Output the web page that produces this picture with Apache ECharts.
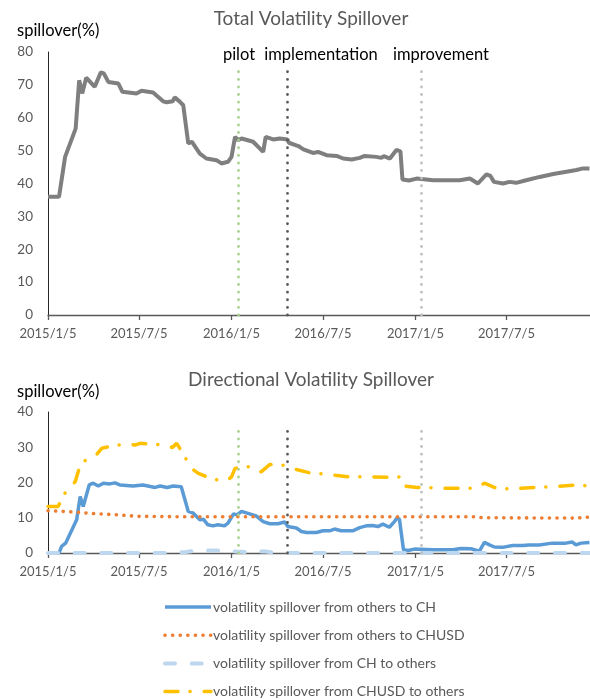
<!DOCTYPE html>
<html>
<head>
<meta charset="utf-8">
<script src="https://cdn.jsdelivr.net/npm/echarts@6/dist/echarts.min.js"></script>
<style>
html,body{margin:0;padding:0;background:#fff;}
#chart{width:590px;height:699px;}
</style>
</head>
<body>
<div id="chart"></div>
<script>
// ---------- data ----------
const tickLabels = ['2015/1/5','2015/7/5','2016/1/5','2016/7/5','2017/1/5','2017/7/5'];
const xStart = '2015/1/5';
const xEnd = '2017/12/18';

const eventNames = ['pilot','implementation','improvement'];
const eventDates = ['2016-01-19','2016-04-25','2017-01-17'];

const totDates = ['2015-01-05','2015-01-27','2015-02-08','2015-03-01','2015-03-08','2015-03-14','2015-03-22','2015-04-08','2015-04-20','2015-04-26','2015-05-05','2015-05-25','2015-06-02','2015-06-30','2015-07-10','2015-08-02','2015-08-22','2015-08-29','2015-09-10','2015-09-14','2015-09-24','2015-10-01','2015-10-11','2015-10-18','2015-11-03','2015-11-16','2015-12-06','2015-12-16','2015-12-29','2016-01-05','2016-01-12','2016-01-18','2016-01-25','2016-02-17','2016-03-08','2016-03-13','2016-03-28','2016-04-10','2016-04-25','2016-04-28','2016-05-17','2016-05-27','2016-06-15','2016-06-25','2016-07-12','2016-08-01','2016-08-14','2016-08-31','2016-09-16','2016-09-26','2016-10-19','2016-10-29','2016-11-03','2016-11-15','2016-11-28','2016-12-06','2016-12-10','2016-12-23','2017-01-07','2017-02-09','2017-04-03','2017-04-23','2017-05-09','2017-05-26','2017-06-03','2017-06-10','2017-06-28','2017-07-11','2017-07-24','2017-08-13','2017-09-09','2017-10-06','2017-11-01','2017-11-21','2017-12-04','2017-12-17'];
const totValues = [36.0,36.0,48.1,56.7,71.4,67.4,72.2,69.4,73.8,73.5,70.9,70.4,67.9,67.4,68.2,67.7,65.0,64.7,65.0,66.2,64.9,63.8,52.2,52.7,49.1,47.6,47.1,46.1,46.6,48.1,54.2,53.2,53.7,52.7,49.6,54.2,53.4,53.7,53.4,52.4,51.4,50.4,49.3,49.6,48.6,48.4,47.6,47.3,47.8,48.4,48.1,47.8,48.3,47.6,50.2,49.8,41.2,40.9,41.5,41.0,41.0,41.5,40.0,42.8,42.3,40.5,40.0,40.5,40.2,41.0,42.0,42.9,43.6,44.1,44.6,44.6];

const seriesNames = ['volatility spillover from others to CH','volatility spillover from others to CHUSD','volatility spillover from CH to others','volatility spillover from CHUSD to others'];

const toCHDates = ['2015-01-05','2015-01-27','2015-02-01','2015-02-09','2015-02-20','2015-03-03','2015-03-10','2015-03-16','2015-03-28','2015-04-05','2015-04-15','2015-04-25','2015-05-08','2015-05-18','2015-05-28','2015-06-23','2015-07-13','2015-08-06','2015-08-16','2015-08-30','2015-09-11','2015-09-27','2015-10-11','2015-10-21','2015-11-03','2015-11-10','2015-11-19','2015-11-29','2015-12-09','2015-12-22','2015-12-29','2016-01-09','2016-01-16','2016-01-25','2016-02-10','2016-02-23','2016-03-08','2016-03-21','2016-04-06','2016-04-20','2016-04-26','2016-05-13','2016-05-23','2016-06-02','2016-06-22','2016-07-05','2016-07-18','2016-07-28','2016-08-10','2016-09-02','2016-09-16','2016-09-29','2016-10-12','2016-10-22','2016-11-01','2016-11-14','2016-11-24','2016-11-29','2016-12-04','2016-12-12','2016-12-21','2017-01-03','2017-02-08','2017-03-20','2017-04-05','2017-04-25','2017-05-12','2017-05-22','2017-06-01','2017-06-11','2017-06-27','2017-07-17','2017-08-06','2017-08-19','2017-09-08','2017-10-04','2017-10-31','2017-11-13','2017-11-20','2017-11-30','2017-12-17'];
const toCHValues = [0,0,1.9,2.8,6.1,9.4,16.0,13.2,19.3,19.8,19.0,19.8,19.6,19.9,19.3,19.0,19.3,18.6,19.0,18.6,19.0,18.8,11.8,11.3,9.4,9.6,8.0,7.7,8.0,7.7,8.5,11.1,10.8,11.8,11.1,10.5,8.9,8.3,8.3,8.8,7.5,7.1,6.1,5.8,5.8,6.3,6.3,6.8,6.3,6.3,7.2,7.7,7.8,7.5,8.2,7.3,8.9,9.9,9.6,0.9,0.7,1.1,0.9,0.9,1.3,1.2,0.5,3.0,2.3,1.7,1.6,2.1,2.1,2.3,2.3,2.8,2.8,3.1,2.3,2.8,3.0];

const toCHUSDDates = ['2015-01-05','2015-02-18','2015-04-05','2015-05-25','2015-07-04','2015-09-11','2016-06-01','2017-05-01','2017-05-20','2017-11-20','2017-12-17'];
const toCHUSDValues = [12.0,11.7,11.2,10.8,10.4,10.3,10.3,10.3,10.0,9.9,10.2];

const fromCHDates = ['2015-01-05','2015-09-11','2015-10-06','2015-10-31','2015-12-20','2016-01-14','2016-02-08','2016-03-09','2016-03-24','2016-04-18','2017-12-17'];
const fromCHValues = [0,0,0.3,0.7,0.7,0.4,0.2,0.5,0.2,0,0];

const fromCHUSDDates = ['2015-01-05','2015-01-25','2015-02-08','2015-02-28','2015-03-07','2015-03-18','2015-04-08','2015-04-22','2015-05-20','2015-06-17','2015-06-27','2015-07-07','2015-08-05','2015-09-04','2015-09-09','2015-09-18','2015-10-05','2015-10-17','2015-10-31','2015-11-29','2015-12-26','2016-01-05','2016-01-12','2016-01-28','2016-02-17','2016-03-04','2016-03-21','2016-04-20','2016-05-13','2016-06-07','2016-07-08','2016-08-27','2016-09-29','2016-11-14','2016-12-07','2016-12-12','2017-01-08','2017-03-03','2017-04-02','2017-05-05','2017-05-22','2017-06-14','2017-07-17','2017-08-03','2017-09-01','2017-10-04','2017-10-24','2017-11-23','2017-12-17'];
const fromCHUSDValues = [13.2,13.2,17.0,20.2,23.5,26.1,27.3,29.7,30.6,30.9,30.6,31.1,30.9,30.3,29.9,31.1,27.1,24.0,22.6,20.9,20.4,21.6,24.0,24.5,24.5,23.0,25.1,24.9,23.7,22.8,22.4,21.6,21.6,21.5,21.6,19.0,18.6,18.4,18.4,18.4,19.8,18.4,18.1,18.4,18.6,18.8,19.0,19.3,19.0];

// ---------- helpers ----------
function ts(s){ const p = s.split(/[-\/]/).map(Number); return new Date(p[0], p[1]-1, p[2]).getTime(); }
function zip(d, v){ return d.map((x, i) => [ts(x), v[i]]); }
const tickValues = tickLabels.map(ts);
const FONT = 'Lato';
const GRAY = '#595959';

function xAxisCfg(idx){
  return {
    type: 'value', gridIndex: idx, min: ts(xStart), max: ts(xEnd), scale: true,
    axisLine: { show: true, lineStyle: { color: GRAY, width: 1.3 } },
    axisTick: { show: true, customValues: tickValues, length: 5, inside: false, lineStyle: { color: GRAY, width: 1.3 } },
    axisLabel: { customValues: tickValues, color: GRAY, fontSize: 13, fontFamily: FONT, margin: 12,
      formatter: v => { const i = tickValues.indexOf(v); return i >= 0 ? tickLabels[i] : ''; } },
    splitLine: { show: false }
  };
}
function yAxisCfg(idx, max){
  return {
    type: 'value', gridIndex: idx, min: 0, max: max, interval: 10,
    axisLine: { show: true, lineStyle: { color: '#262626', width: 1 } },
    axisTick: { show: false },
    axisLabel: { color: GRAY, fontSize: 13.5, fontFamily: FONT, margin: 15 },
    splitLine: { show: false }
  };
}
const eventColors = ['#A9D18E','#595959','#BFBFBF'];
function eventLines(top){
  return {
    silent: true, symbol: ['none','none'], label: { show: false }, animation: false,
    data: eventDates.map((d, i) => [
      { coord: [ts(d), 0], lineStyle: { color: eventColors[i], type: [0.1, 7.5], width: 2.8, cap: 'round' } },
      { coord: [ts(d), top] }
    ])
  };
}

const chart = echarts.init(document.getElementById('chart'), null, { renderer: 'canvas' });
chart.setOption({
  animation: false,
  textStyle: { fontFamily: FONT },
  grid: [
    { left: 48, right: 0, top: 52, bottom: 384, outerBoundsMode: 'none', containLabel: false },
    { left: 48, right: 0, top: 412, bottom: 146, outerBoundsMode: 'none', containLabel: false }
  ],
  xAxis: [xAxisCfg(0), xAxisCfg(1)],
  yAxis: [yAxisCfg(0, 80), yAxisCfg(1, 40)],
  legend: {
    data: seriesNames, orient: 'vertical', left: 163, top: 600, height: 140, width: 420, padding: 0,
    itemWidth: 46, itemHeight: 14, itemGap: 14.2,
    itemStyle: { color: 'rgba(0,0,0,0)', opacity: 0, borderWidth: 0 },
    lineStyle: { width: 'inherit' },
    textStyle: { color: GRAY, fontSize: 14, lineHeight: 14, fontFamily: FONT, padding: [0,0,0,-3] },
    selectedMode: false
  },
  graphic: [
    { type: 'text', style: { text: 'Total Volatility Spillover', x: 311, y: 19, textAlign: 'center', textVerticalAlign: 'middle', fill: GRAY, font: '19px ' + FONT } },
    { type: 'text', style: { text: 'spillover(%)', x: 17, y: 31, textAlign: 'left', textVerticalAlign: 'middle', fill: '#000', font: '16.5px ' + FONT } },
    { type: 'text', style: { text: eventNames[0], x: 239, y: 55, textAlign: 'center', textVerticalAlign: 'middle', fill: '#000', font: '16.5px ' + FONT } },
    { type: 'text', style: { text: eventNames[1], x: 321, y: 55, textAlign: 'center', textVerticalAlign: 'middle', fill: '#000', font: '16.5px ' + FONT } },
    { type: 'text', style: { text: eventNames[2], x: 441, y: 55, textAlign: 'center', textVerticalAlign: 'middle', fill: '#000', font: '16.5px ' + FONT } },
    { type: 'text', style: { text: 'Directional Volatility Spillover', x: 311, y: 380, textAlign: 'center', textVerticalAlign: 'middle', fill: GRAY, font: '19px ' + FONT } },
    { type: 'text', style: { text: 'spillover(%)', x: 17, y: 392, textAlign: 'left', textVerticalAlign: 'middle', fill: '#000', font: '16.5px ' + FONT } }
  ],
  series: [
    { name: 'total', type: 'line', xAxisIndex: 0, yAxisIndex: 0, symbol: 'none', data: zip(totDates, totValues),
      lineStyle: { color: '#7F7F7F', width: 4 }, markLine: eventLines(74.5), z: 3 },
    { name: seriesNames[0], type: 'line', xAxisIndex: 1, yAxisIndex: 1, symbol: 'none', data: zip(toCHDates, toCHValues),
      color: '#5B9BD5', lineStyle: { color: '#5B9BD5', width: 3.5 }, markLine: eventLines(34.8), z: 3 },
    { name: seriesNames[1], type: 'line', xAxisIndex: 1, yAxisIndex: 1, symbol: 'none', data: zip(toCHUSDDates, toCHUSDValues),
      color: '#ED7D31', lineStyle: { color: '#ED7D31', width: 3.6, type: [0.1, 7.5], cap: 'round' }, z: 3 },
    { name: seriesNames[2], type: 'line', xAxisIndex: 1, yAxisIndex: 1, symbol: 'none', data: zip(fromCHDates, fromCHValues),
      color: '#BDD7EE', lineStyle: { color: '#BDD7EE', width: 4, type: [10, 16.7], cap: 'round' }, z: 3 },
    { name: seriesNames[3], type: 'line', xAxisIndex: 1, yAxisIndex: 1, symbol: 'none', data: zip(fromCHUSDDates, fromCHUSDValues),
      color: '#FFC000', lineStyle: { color: '#FFC000', width: 3.5, type: [13, 12, 0.1, 14], cap: 'round' }, z: 3 }
  ]
});
</script>
</body>
</html>
